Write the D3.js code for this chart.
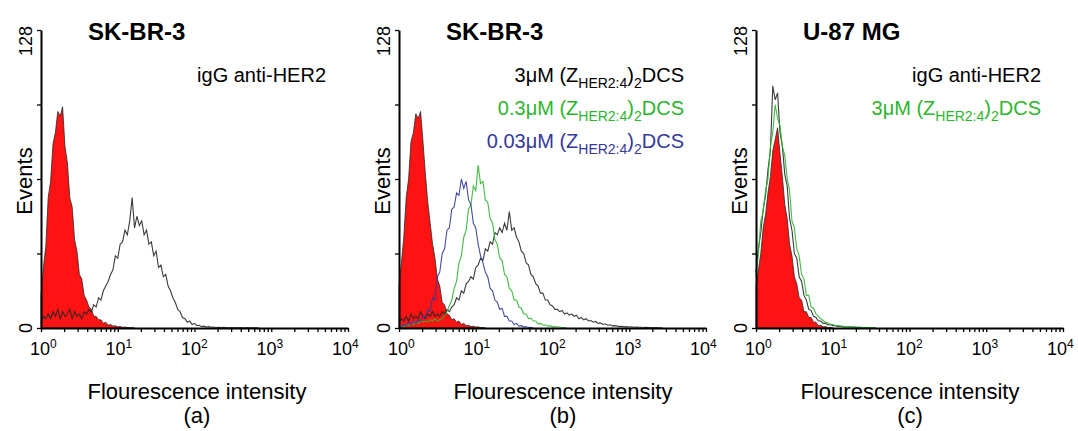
<!DOCTYPE html>
<html><head><meta charset="utf-8">
<script src="https://cdn.jsdelivr.net/npm/d3@7"></script>
<style>
body{margin:0;background:#fff}
svg{display:block}
text{font-family:"Liberation Sans",Arial,Helvetica,sans-serif;fill:#000}
</style>
</head><body>
<svg id="chart" width="1078" height="431"></svg>
<script>
// ---------- DATA ----------
// Histogram counts, one value per bin; bins are 1/32 decade wide starting at 10^0.
const binsPerDecade = 32;
const decadeTicks = [1, 10, 100, 1000, 10000];
const decadeExponents = ["0", "1", "2", "3", "4"];
const yTickValues = [0, 32, 64, 96, 128];
const yLabelled = [0, 128];
const panelTitles = ["SK-BR-3", "SK-BR-3", "U-87 MG"];
const panelLetters = ["(a)", "(b)", "(c)"];
const xTitle = "Flourescence intensity";
const yTitle = "Events";

// Panel (a): SK-BR-3
const aControl = [14,26,35,56,63,79,84,93,91,95,78,71,56,52,38,33,23,21,14,12,9,8,5,5,3.5,3.5,2,2.5,1.2,1.5,0.8,1,0.5,0.6,0.3,0.4,0.2,0.2,0.1,0];
const aAntiHER2 = [2,5,4,6,4,7,5,8,4,7,5,6,8,4,7,5,6,4,7,6,8,
  7,10,9,13,12,16,18,20,23,25,31,30,36,37,42,40,46,56,43,48,
  44,46,40,42,36,37,31,33,26,27,22,23,18,16,13,11,8,7,4.5,4,2.5,
  3,1.5,2,1,1.2,0.6,0.8,0.4,0.6,0.3,0.4,0.2,0.3,0.2,0.3,
  0.2,0.1,0.2,0.1,0.2,0.1,0.2,0.1,0.1,0.2,0.1,0.1,0.1,0.1,0];

// Panel (b): SK-BR-3, three concentrations
const bControl = [18,28,39,56,64,80,84,92,90,93,80,66,54,45,36,30,21,18,11,10,6,5.5,3.5,4,2.5,3,1.5,2,1,1.2,0.6,0.8,0.4,0.5,0.2,0.2,0];
const b3uM = [2,4,3,5,3,6,4,5,4,7,5,4,6,5,7,5,6,5,7,6,8,
  7,9,10,13,12,16,15,19,20,22,21,26,27,30,29,34,33,37,36,41,40,43,41,45,42,50,
  42,43,39,37,33,32,28,27,23,22,19,18,15,15,12,12,10,9.5,8,8,
  7,7.5,6,6.5,5.5,6,5,5.5,4,4.5,3.5,4,3,3.2,2.5,2.8,2,2.2,1.5,1.8,1.2,1.4,0.9,1,0.8,
  0.6,0.7,0.5,0.6,0.4,0.5,0.3,0.4,0.3,0.3,0.2,0.3,0.2,0.2,0.1,0.2,0.1,0.1,0];
const b03uM = [0.5,1,0.5,1.5,1,2,1.5,2.5,2,3,2.5,3,2.5,3.5,3,4,3,
  3.5,4,5.5,7,9.5,12,17,20,28,31,39,42,51,53,61,59,70,62,63,55,54,47,45,38,36,30,29,23,22,17,16,12,12,9,8.5,6,6,4,4.2,3,3,1.8,2,1.2,1.4,0.8,1,0.5,0.6,0.4,0.4,0.2,0.2,0];
const b003uM = [1,0.5,1.5,1,2.5,1.5,3,2,3.5,3,5,4.5,8,7,13,12,22,24,32,34,42,43,51,52,58,57,64,60,63,55,53,45,43,36,31,28,24,22,17,16,12,11,8,8.5,5,5,3,3,1.5,2,0.8,1,0.4,0.5,0.2,0.3,0];

// Panel (c): U-87 MG
const cControl = [18,25,32,43,49,58,65,76,81,86,75,65,53,47,36,31,22,19,13,12,7,7,4.5,4.5,2.5,2.5,1,1.2,0.5,0.6,0.2,0.3,0];
const cAntiHER2 = [24,34,41,51,57,68,76,104,98,101,84,78,66,61,47,42,32,30,22,20,14,12,8,7.5,5,4.5,3,3,2,2,1.3,1.5,1,1.1,0.7,0.8,0.5,0.6,0.4,0.5,0.3,0.4,0.2,0.3,0.2,0.2,0.1,0.2,0.1,0.1,0];
const c3uM = [22,32,46,50,59,64,78,84,96,90,87,78,74,64,59,46,43,34,31,23,21,14,14,9,8.5,6,5,4,3.2,2.4,2.1,1.6,1.5,1.1,1.1,0.8,0.8,0.6,0.6,0.5,0.5,0.4,0.4,0.3,0.3,0.2,0.3,0.2,0.2,0.1,0];

// ---------- STYLE / LAYOUT ----------
const BLACK = "#262626", GREEN = "#2db52d", BLUE = "#34399a", RED = "#fe1212";
const sub = t => ({t, sub:true});
const lbl = (color, ...parts) => ({color, parts: parts.map(p => typeof p === "string" ? {t:p} : p)});

const panels = [
  { origin: 41, labelOffset: 156, control: aControl,
    lines: [{data: aAntiHER2, color: BLACK}],
    legend: [lbl("#000", "igG anti-HER2")] },
  { origin: 399, labelOffset: 164, control: bControl,
    lines: [{data: b3uM, color: BLACK}, {data: b03uM, color: GREEN}, {data: b003uM, color: BLUE}],
    legend: [lbl("#000", "3\u03bcM (Z", sub("HER2:4"), ")", sub("2"), "DCS"),
             lbl(GREEN, "0.3\u03bcM (Z", sub("HER2:4"), ")", sub("2"), "DCS"),
             lbl(BLUE, "0.03\u03bcM (Z", sub("HER2:4"), ")", sub("2"), "DCS")] },
  { origin: 756, labelOffset: 154, control: cControl,
    lines: [{data: cAntiHER2, color: BLACK}, {data: c3uM, color: GREEN}],
    legend: [lbl("#000", "igG anti-HER2"),
             lbl(GREEN, "3\u03bcM (Z", sub("HER2:4"), ")", sub("2"), "DCS")] }
];

const axisLen = 307, yTop = 30, yBottom = 328, labelStep = 75.5;
const svg = d3.select("#chart");

const minorTicks = [];
for (let k = 0; k < 4; k++) for (let m = 1; m < 10; m++) minorTicks.push(m * decadeTicks[k]);
minorTicks.push(decadeTicks[4]);

panels.forEach((p, pi) => {
  const g = svg.append("g");
  const x = d3.scaleLog().domain([1, 1e4]).range([p.origin, p.origin + axisLen]);
  const y = d3.scaleLinear().domain([0, 128]).range([yBottom, yTop]);
  const pts = arr => arr.map((v, i) => [Math.pow(10, i / binsPerDecade), v]);

  const area = d3.area().x(d => x(d[0])).y0(y(0)).y1(d => y(d[1])).curve(d3.curveLinear);
  const line = d3.line().x(d => x(d[0])).y(d => y(d[1])).curve(d3.curveLinear);

  g.append("path").datum(pts(p.control)).attr("d", area)
    .attr("fill", RED).attr("stroke", "#2a2a2a").attr("stroke-width", 0.8);

  p.lines.forEach(l => {
    g.append("path").datum(pts(l.data)).attr("d", line)
      .attr("fill", "none").attr("stroke", l.color).attr("stroke-width", 1.1).attr("opacity", 0.9);
  });

  // axes
  const xa = g.append("g").attr("transform", `translate(0,${yBottom})`)
    .call(d3.axisBottom(x).tickValues(minorTicks).tickSize(4).tickSizeOuter(0).tickFormat(""));
  xa.select(".domain").attr("stroke-width", 2);
  xa.selectAll(".tick line").attr("stroke-width", 1.3);

  const ya = g.append("g").attr("transform", `translate(${p.origin},0)`)
    .call(d3.axisLeft(y).tickValues(yTickValues).tickSize(4).tickSizeOuter(0).tickFormat(""));
  ya.select(".domain").attr("stroke-width", 2);
  ya.selectAll(".tick line").attr("stroke-width", 1.3);

  // x tick labels 10^n
  decadeTicks.forEach((v, i) => {
    const cx = p.origin - 1 + labelStep * i;
    const t = g.append("text").attr("x", cx - 10).attr("y", 355).attr("font-size", 18);
    t.append("tspan").text("10");
    t.append("tspan").attr("dy", -7).attr("font-size", 12).text(decadeExponents[i]);
  });

  // y tick labels (rotated)
  yLabelled.forEach(v => {
    const cy = v === 128 ? y(v) + 11 : y(v);
    g.append("text").attr("transform", `translate(${p.origin - 9},${cy}) rotate(-90)`)
      .attr("text-anchor", "middle").attr("font-size", 18).text(String(v));
  });

  g.append("text").attr("transform", `translate(${p.origin - 9},181) rotate(-90)`)
    .attr("text-anchor", "middle").attr("font-size", 22).text(yTitle);

  // title
  g.append("text").attr("x", p.origin + 47).attr("y", 40).attr("font-size", 24)
    .attr("font-weight", "bold").text(panelTitles[pi]);

  // legend
  p.legend.forEach((L, li) => {
    const t = g.append("text").attr("x", p.origin + 285).attr("y", 82 + li * 33)
      .attr("text-anchor", "end").attr("font-size", 20).style("fill", L.color);
    let shift = 0;
    L.parts.forEach(part => {
      const target = part.sub ? 6 : 0;
      const ts = t.append("tspan").attr("dy", target - shift).text(part.t).style("fill", L.color);
      if (part.sub) ts.attr("font-size", 14);
      shift = target;
    });
  });

  // axis title & letter
  g.append("text").attr("x", p.origin + p.labelOffset).attr("y", 399)
    .attr("text-anchor", "middle").attr("font-size", 22).text(xTitle);
  g.append("text").attr("x", p.origin + p.labelOffset).attr("y", 423)
    .attr("text-anchor", "middle").attr("font-size", 22).text(panelLetters[pi]);
});
</script>
</body></html>
